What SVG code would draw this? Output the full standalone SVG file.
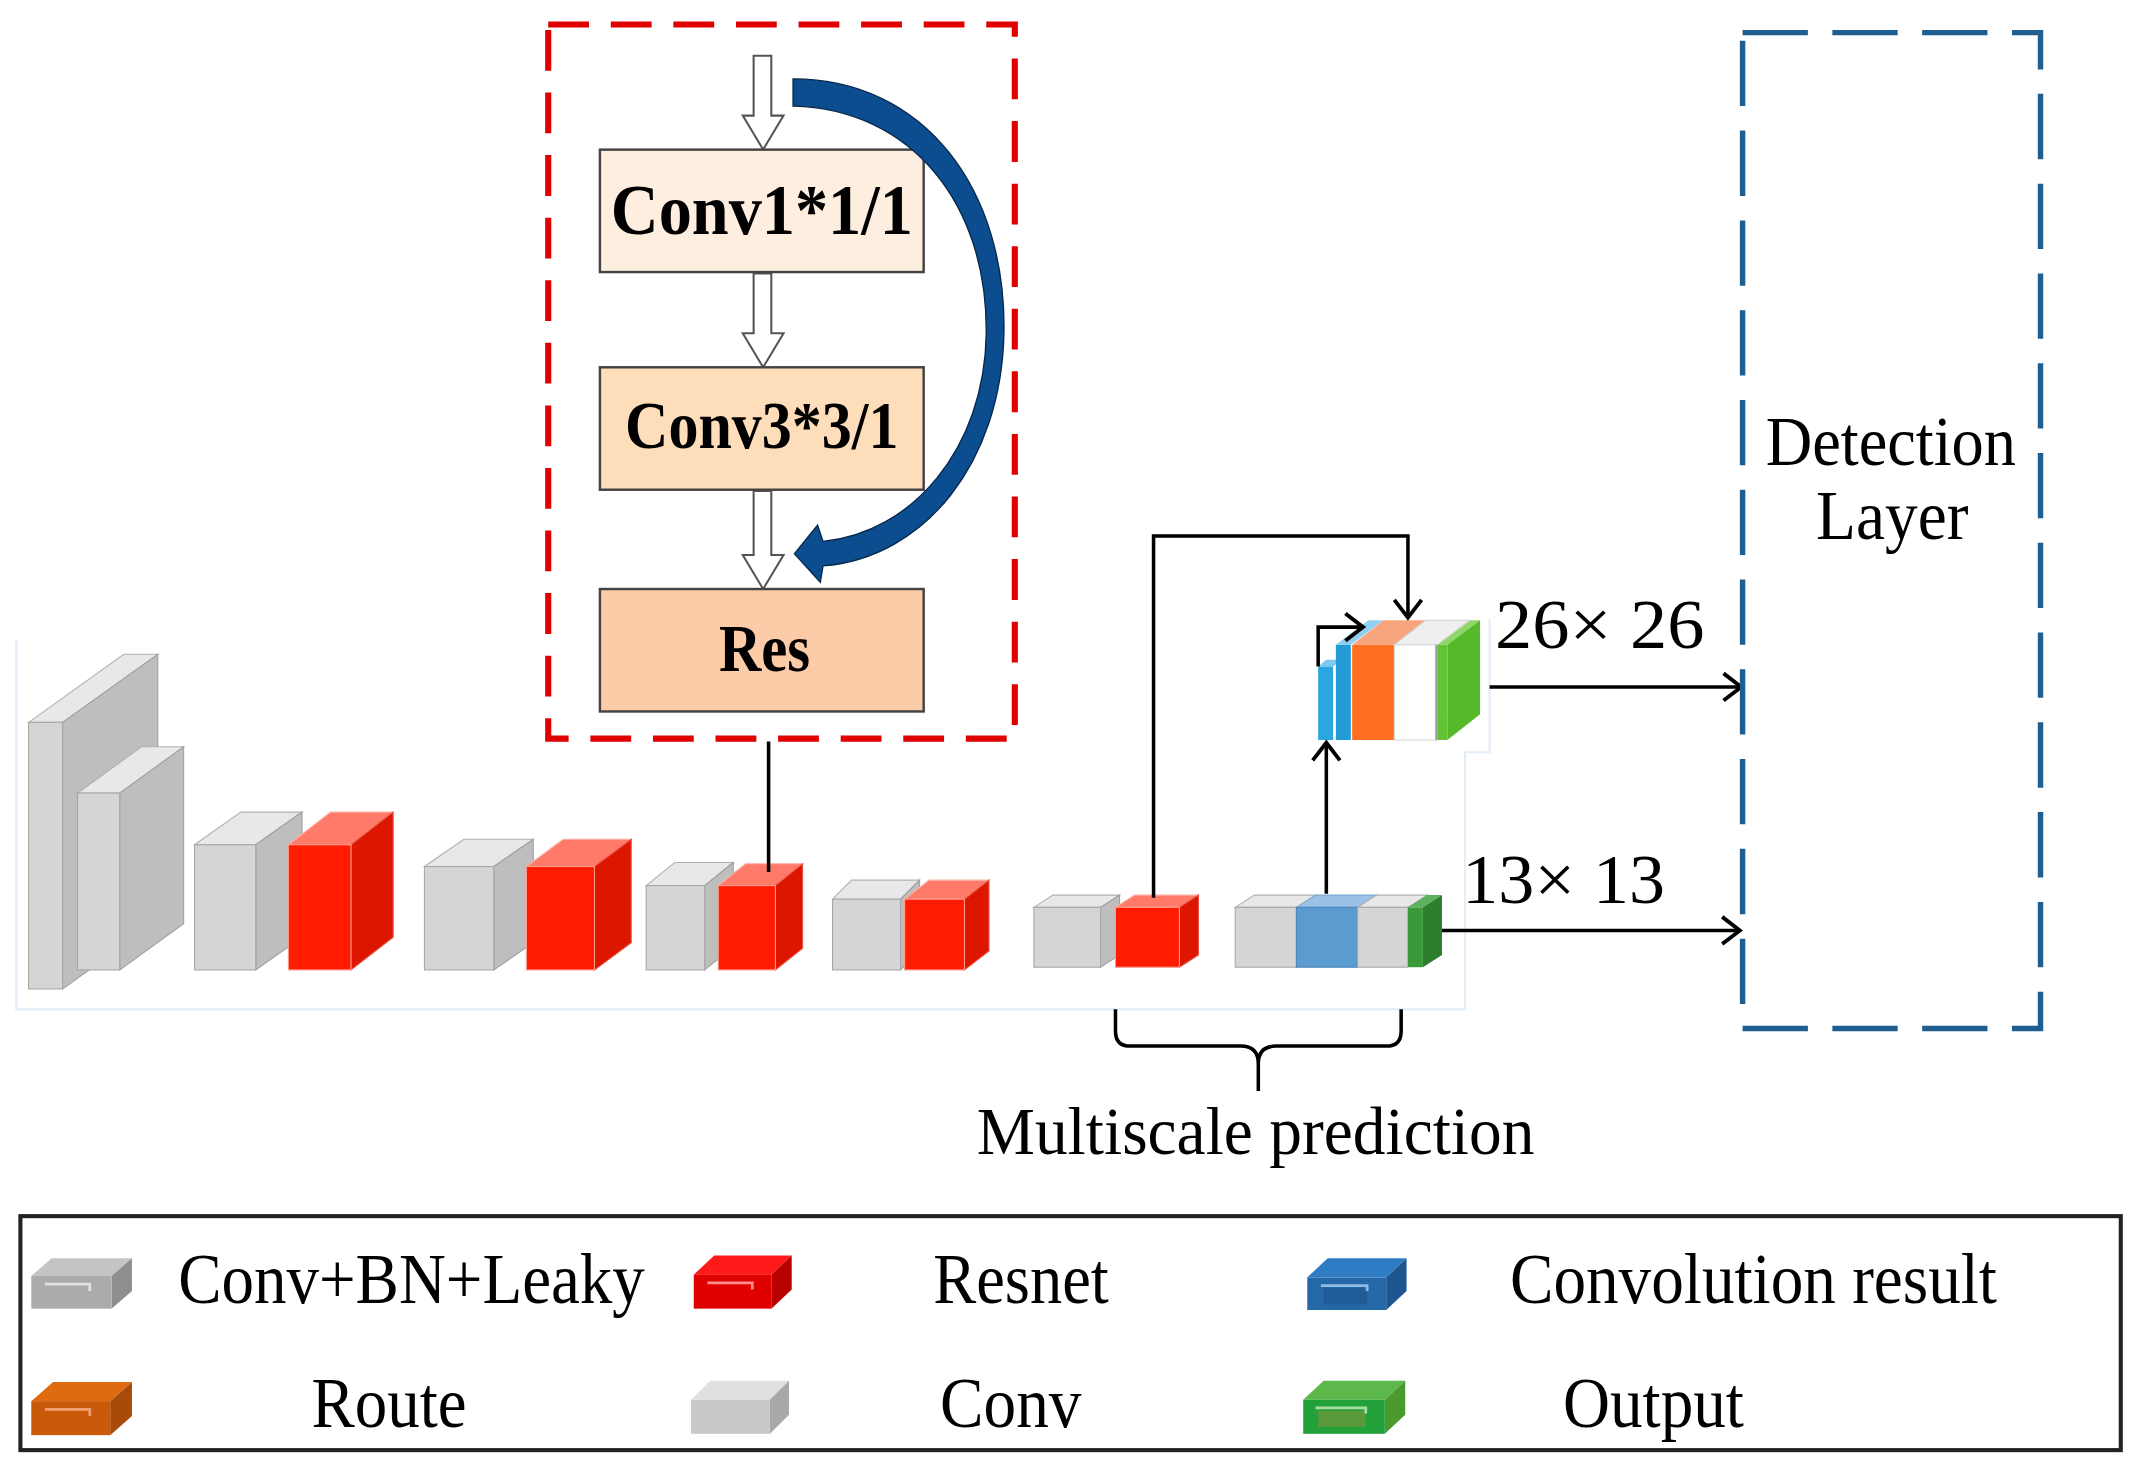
<svg xmlns="http://www.w3.org/2000/svg" width="2133" height="1468" viewBox="0 0 2133 1468">
<style>
text{font-family:"Liberation Serif","Times New Roman",serif;fill:#000}
.b{font-weight:bold}
.lg{font-size:53px}
.box{stroke:#444;stroke-width:1.8}
.hol{fill:#fff;stroke:#555;stroke-width:1.5}
.gf{fill:#D5D5D5;stroke:#A8A8A8;stroke-width:0.8}
.gt{fill:#E8E8E8;stroke:#B0B0B0;stroke-width:0.8}
.gs{fill:#BEBEBE;stroke:#A0A0A0;stroke-width:0.8}
.rf{fill:#FF1C00;stroke:#FF9A8A;stroke-width:0.8}
.rt{fill:#FF7A68;stroke:#FFB0A4;stroke-width:0.8}
.rs{fill:#DD1600;stroke:#E85040;stroke-width:0.8}
.ln{fill:none;stroke:#000;stroke-width:2.6}
.faint{fill:none;stroke:#E3EEF8;stroke-width:1.6}
</style>
<defs>
<marker id="ah" markerUnits="userSpaceOnUse" markerWidth="22" markerHeight="26" refX="14" refY="11" orient="auto" overflow="visible">
<path d="M1,1 L14,11 L1,21" fill="none" stroke="#000" stroke-width="2.8"/>
</marker>
</defs>
<rect width="2133" height="1468" fill="#fff"/>
<g transform="scale(1.36034)">
<path class="faint" d="M12,470 L12,742 L1077,742 L1077,553 L1095,553 L1095,455"/>

<!-- Residual block detail -->
<g id="res-group">
<rect x="403" y="18" width="343" height="525" fill="none" stroke="#E00000" stroke-width="4.5" stroke-dasharray="30 16"/>
<polygon class="hol" points="554,41 567,41 567,85 576,85 561,110 546,85 554,85"/>
<polygon class="hol" points="554,201 567,201 567,245 576,245 561,270 546,245 554,245"/>
<polygon class="hol" points="554,361 567,361 567,408 576,408 561,433 546,408 554,408"/>
<g id="conv1"><rect class="box" x="441" y="110" width="238" height="90" fill="#FEEEDF"/>
<text class="b" x="560" y="172" font-size="53" text-anchor="middle" textLength="222" lengthAdjust="spacingAndGlyphs">Conv1*1/1</text></g>
<g id="conv3"><rect class="box" x="441" y="270" width="238" height="90" fill="#FDDDBA"/>
<text class="b" x="560" y="329" font-size="49" text-anchor="middle" textLength="201" lengthAdjust="spacingAndGlyphs">Conv3*3/1</text></g>
<g id="res"><rect class="box" x="441" y="433" width="238" height="90" fill="#FCCBA7"/>
<text class="b" x="562" y="493" font-size="49" text-anchor="middle" textLength="67" lengthAdjust="spacingAndGlyphs">Res</text></g>
<path id="skip" d="M583,58 C680,58 740,140 738,245 C736,340 680,410 605,416 L603,428 L584,407 L601,386 L605,398 C670,392 724,330 725,245 C726,150 670,80 583,78 Z" fill="#0B4D8F" stroke="#06284D" stroke-width="1"/>
</g>

<!-- Backbone blocks -->
<g id="blkA"><polygon class="gt" points="21,531 46,531 116,481 91,481"/><polygon class="gs" points="46,531 116,481 116,677 46,727"/><rect class="gf" x="21" y="531" width="25" height="196"/></g>
<g id="blkB"><polygon class="gt" points="57,583 88,583 135,549 104,549"/><polygon class="gs" points="88,583 135,549 135,679 88,713"/><rect class="gf" x="57" y="583" width="31" height="130"/></g>
<g id="blkC"><polygon class="gt" points="143,621 188,621 222,597 177,597"/><polygon class="gs" points="188,621 222,597 222,689 188,713"/><rect class="gf" x="143" y="621" width="45" height="92"/></g>
<g id="blkD"><polygon class="rt" points="212,621 258,621 289,597 243,597"/><polygon class="rs" points="258,621 289,597 289,689 258,713"/><rect class="rf" x="212" y="621" width="46" height="92"/></g>
<g id="blkE"><polygon class="gt" points="312,637 363,637 392,617 341,617"/><polygon class="gs" points="363,637 392,617 392,693 363,713"/><rect class="gf" x="312" y="637" width="51" height="76"/></g>
<g id="blkF"><polygon class="rt" points="387,637 437,637 464,617 414,617"/><polygon class="rs" points="437,637 464,617 464,693 437,713"/><rect class="rf" x="387" y="637" width="50" height="76"/></g>
<g id="blkG"><polygon class="gt" points="475,651 518,651 539,634 496,634"/><polygon class="gs" points="518,651 539,634 539,696 518,713"/><rect class="gf" x="475" y="651" width="43" height="62"/></g>
<g id="blkH"><polygon class="rt" points="528,651 570,651 590,635 548,635"/><polygon class="rs" points="570,651 590,635 590,697 570,713"/><rect class="rf" x="528" y="651" width="42" height="62"/></g>
<g id="blkI"><polygon class="gt" points="612,661 662,661 676,647 626,647"/><polygon class="gs" points="662,661 676,647 676,699 662,713"/><rect class="gf" x="612" y="661" width="50" height="52"/></g>
<g id="blkJ"><polygon class="rt" points="665,661 709,661 727,647 683,647"/><polygon class="rs" points="709,661 727,647 727,699 709,713"/><rect class="rf" x="665" y="661" width="44" height="52"/></g>
<g id="blkK"><polygon class="gt" points="760,667 809,667 823,658 774,658"/><polygon class="gs" points="809,667 823,658 823,702 809,711"/><rect class="gf" x="760" y="667" width="49" height="44"/></g>
<g id="blkL"><polygon class="rt" points="820,667 867,667 881,658 834,658"/><polygon class="rs" points="867,667 881,658 881,702 867,711"/><rect class="rf" x="820" y="667" width="47" height="44"/></g>
<g id="blkOut13">
<polygon class="gt" points="908,667 953,667 967,658 922,658"/>
<polygon points="953,667 998,667 1012,658 967,658" fill="#9BC2E6" stroke="#7FA9D0" stroke-width="0.8"/>
<polygon class="gt" points="998,667 1035,667 1049,658 1012,658"/>
<polygon points="1035,667 1046,667 1060,658 1049,658" fill="#5DB05D"/>
<polygon points="1046,667 1060,658 1060,702 1046,711" fill="#2E7D2E"/>
<rect class="gf" x="908" y="667" width="45" height="44"/>
<rect x="953" y="667" width="45" height="44" fill="#5B9BD0" stroke="#4A86BC" stroke-width="0.8"/>
<rect class="gf" x="998" y="667" width="37" height="44"/>
<rect x="1035" y="667" width="11" height="44" fill="#3A9A3A"/>
</g>
<g id="blkOut26">
<polygon points="969,490 980,490 986,485 975,485" fill="#7CCAF0"/>
<rect x="969" y="490" width="11" height="54" fill="#2BA6E0"/>
<polygon points="982,474 993,474 1017,456 1006,456" fill="#8FD0F2"/>
<rect x="982" y="474" width="11" height="70" fill="#239BD6"/>
<polygon points="994,474 1025,474 1048,456 1017,456" fill="#F8A47F"/>
<rect x="994" y="474" width="31" height="70" fill="#FF6F21"/>
<polygon points="1025,474 1057,474 1080,456 1048,456" fill="#EFEFEF" stroke="#D0D0D0" stroke-width="0.8"/>
<rect x="1025" y="474" width="32" height="70" fill="#FFFFFF" stroke="#D6D6D6" stroke-width="0.8"/>
<polygon points="1057,474 1064,474 1088,456 1081,456" fill="#8ED66A"/>
<polygon points="1064,474 1088,456 1088,525 1064,544" fill="#56B92A"/>
<rect x="1055" y="474" width="2" height="70" fill="#A0A0A0"/>
<rect x="1057" y="474" width="7" height="70" fill="#62C435"/>
</g>

<!-- Connectors -->
<g id="connectors">
<line class="ln" x1="565" y1="545" x2="565" y2="641"/>
<polyline class="ln" points="848,660 848,394 1035,394 1035,454" marker-end="url(#ah)"/>
<polyline class="ln" points="969,490 969,461 1002,461" marker-end="url(#ah)"/>
<line class="ln" x1="975" y1="657" x2="975" y2="546" marker-end="url(#ah)"/>
<line class="ln" x1="1095" y1="505" x2="1280" y2="505" marker-end="url(#ah)"/>
<line class="ln" x1="1060" y1="684" x2="1279" y2="684" marker-end="url(#ah)"/>
<path class="ln" d="M820,742 L820,758 Q820,769 831,769 L912,769 Q925,769 925,782 L925,802 M925,782 Q925,769 938,769 L1019,769 Q1030,769 1030,758 L1030,742"/>
</g>

<text x="1099" y="476" font-size="51" textLength="154" lengthAdjust="spacingAndGlyphs">26× 26</text>
<text x="1075" y="664" font-size="51" textLength="149" lengthAdjust="spacingAndGlyphs">13× 13</text>
<text x="923" y="848" font-size="49" text-anchor="middle" textLength="410" lengthAdjust="spacingAndGlyphs">Multiscale prediction</text>

<g id="detection">
<rect x="1281" y="24" width="219" height="732" fill="none" stroke="#1E5E90" stroke-width="4" stroke-dasharray="48 18"/>
<text x="1390" y="342" font-size="51" text-anchor="middle" textLength="184" lengthAdjust="spacingAndGlyphs">Detection</text>
<text x="1391" y="396" font-size="51" text-anchor="middle" textLength="112" lengthAdjust="spacingAndGlyphs">Layer</text>
</g>

<!-- Legend -->
<g id="legend">
<rect x="15" y="894" width="1544" height="172" fill="none" stroke="#222" stroke-width="3"/>
<g id="lg-cbl">
<polygon points="23,938 82,938 97,925 38,925" fill="#C4C4C4"/><polygon points="82,938 97,925 97,949 82,962" fill="#8E8E8E"/><rect x="23" y="938" width="59" height="24" fill="#ABABAB"/>
<polyline points="33,944 66,944 66,949" fill="none" stroke="#E2E2E2" stroke-width="2"/>
<text class="lg" x="131" y="958" textLength="343" lengthAdjust="spacingAndGlyphs">Conv+BN+Leaky</text></g>
<g id="lg-res">
<polygon points="510,937 567,937 582,923 525,923" fill="#FF1A1A"/><polygon points="567,937 582,923 582,948 567,962" fill="#B80000"/><rect x="510" y="937" width="57" height="25" fill="#E00000"/>
<polyline points="520,943 553,943 553,948" fill="none" stroke="#FF9090" stroke-width="2"/>
<text class="lg" x="686" y="958" textLength="129" lengthAdjust="spacingAndGlyphs">Resnet</text></g>
<g id="lg-cr">
<polygon points="961,939 1019,939 1034,925 976,925" fill="#2E7DC4"/><polygon points="1019,939 1034,925 1034,949 1019,963" fill="#1C5590"/><rect x="961" y="939" width="58" height="24" fill="#2468A8"/>
<rect x="973" y="947" width="32" height="12" fill="#1F5C98"/>
<polyline points="971,945 1005,945 1005,949" fill="none" stroke="#8FBCE6" stroke-width="2"/>
<text class="lg" x="1110" y="958" textLength="358" lengthAdjust="spacingAndGlyphs">Convolution result</text></g>
<g id="lg-route">
<polygon points="23,1030 81,1030 97,1016 39,1016" fill="#E06A10"/><polygon points="81,1030 97,1016 97,1041 81,1055" fill="#A84A08"/><rect x="23" y="1030" width="58" height="25" fill="#C85A0A"/>
<polyline points="33,1036 66,1036 66,1041" fill="none" stroke="#F0A070" stroke-width="2"/>
<text class="lg" x="229" y="1049" textLength="114" lengthAdjust="spacingAndGlyphs">Route</text></g>
<g id="lg-conv">
<polygon points="508,1029 566,1029 580,1015 522,1015" fill="#E0E0E0"/><polygon points="566,1029 580,1015 580,1040 566,1054" fill="#A8A8A8"/><rect x="508" y="1029" width="58" height="25" fill="#C8C8C8"/>
<text class="lg" x="691" y="1049" textLength="104" lengthAdjust="spacingAndGlyphs">Conv</text></g>
<g id="lg-out">
<polygon points="958,1029 1018,1029 1033,1015 973,1015" fill="#5CB84A"/><polygon points="1018,1029 1033,1015 1033,1040 1018,1054" fill="#4A9A2E"/><rect x="958" y="1029" width="60" height="25" fill="#22A03A"/>
<rect x="969" y="1037" width="35" height="12" fill="#5A9A3A"/>
<polyline points="967,1035 1004,1035 1004,1039" fill="none" stroke="#A8DDA0" stroke-width="2"/>
<text class="lg" x="1149" y="1049" textLength="133" lengthAdjust="spacingAndGlyphs">Output</text></g>
</g>
</g>
</svg>
